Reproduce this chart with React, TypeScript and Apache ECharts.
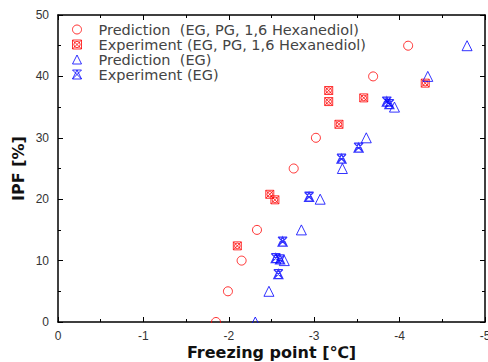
import React, { useEffect, useRef } from "react";
import * as echarts from "echarts";

const predMixX = [-1.85, -1.99, -2.15, -2.33, -2.76, -3.02, -3.69, -4.1];
const predMixY = [0, 5, 10, 15, 25, 30, 40, 45];
const expMixX = [-2.1, -2.48, -2.54, -3.17, -3.17, -3.29, -3.58, -4.3];
const expMixY = [12.4, 20.8, 19.9, 37.7, 35.9, 32.2, 36.5, 38.9];
const predEGX = [-2.31, -2.47, -2.65, -2.85, -3.07, -3.33, -3.61, -3.94, -4.33, -4.79];
const predEGY = [0, 5, 10, 15, 20, 25, 30, 35, 40, 45];
const expEGX = [-2.58, -2.55, -2.6, -2.63, -2.94, -3.32, -3.52, -3.85, -3.88];
const expEGY = [7.8, 10.4, 10.2, 13.1, 20.4, 26.6, 28.4, 35.9, 35.5];

const seriesNames = [
  "Prediction  (EG, PG, 1,6 Hexanediol)",
  "Experiment (EG, PG, 1,6 Hexanediol)",
  "Prediction  (EG)",
  "Experiment (EG)",
];
const seriesColors = ["#ff0000", "#ff0000", "#0000ff", "#0000ff"];

const zip = (xs: number[], ys: number[]) => xs.map((x, i) => [x, ys[i]]);

const SQX = "path://M0,0 L10,0 L10,10 L0,10 Z M0,0 L10,10 M10,0 L0,10 M8.5,5 A3.5,3.5 0 1,1 1.5,5 A3.5,3.5 0 1,1 8.5,5 Z";
const TRIX = "path://M5,0 L10,10 L0,10 Z M0,0 L10,10 M10,0 L0,10 M0,0 L10,0";
const symbols = ["circle", SQX, "triangle", TRIX];

export default function App() {
  const ref = useRef<HTMLDivElement>(null);
  useEffect(() => {
    if (!ref.current) return;
    const chart = echarts.init(ref.current, null, { renderer: "svg" });
    const font = "Liberation Sans";
    const axisLine = { show: true, onZero: false, lineStyle: { color: "#000", width: 1.5 } };
    const xCommon = {
      type: "value" as const,
      min: -5,
      max: 0,
      interval: 1,
      inverse: true,
      axisLine,
      axisTick: { show: true, inside: true, length: 5, lineStyle: { color: "#000", width: 1 } },
      minorTick: { show: true, splitNumber: 2, length: 3, lineStyle: { color: "#000", width: 1 } },
      splitLine: { show: false },
    };
    const yCommon = {
      type: "value" as const,
      min: 0,
      max: 50,
      interval: 10,
      axisLine,
      axisTick: { show: true, inside: true, length: 5, lineStyle: { color: "#000", width: 1 } },
      minorTick: { show: true, splitNumber: 2, length: 3, lineStyle: { color: "#000", width: 1 } },
      splitLine: { show: false },
    };
    chart.setOption({
      animation: false,
      backgroundColor: "#fff",
      grid: { left: 58, right: 3, top: 15, bottom: 40, containLabel: false, outerBoundsMode: "none" },
      legend: {
        orient: "vertical",
        left: 70,
        top: 22,
        padding: 0,
        itemWidth: 9,
        itemHeight: 9,
        itemGap: 0,
        textStyle: {
          fontFamily: "DejaVu Sans",
          fontSize: 14.5,
          lineHeight: 15,
          color: "#444",
          padding: [0, 0, 0, 12],
        },
        data: seriesNames.map((name, i) => ({
          name,
          icon: symbols[i],
          itemStyle: { color: "none", borderColor: seriesColors[i], borderWidth: 1 },
        })),
      },
      graphic: [
        {
          type: "rect",
          left: 58,
          top: 323,
          z: 100,
          shape: { width: 427, height: 5 },
          style: { fill: "#fff" },
          silent: true,
        },
      ],
      xAxis: [
        {
          ...xCommon,
          position: "bottom",
          name: "Freezing point [℃]",
          nameLocation: "middle",
          nameGap: 22,
          nameMoveOverlap: false,
          nameTextStyle: { fontFamily: "DejaVu Sans", fontSize: 16, fontWeight: "bold", color: "#111" },
          axisLabel: { show: true, margin: 8, fontFamily: font, fontSize: 12, color: "#333" },
        },
        { ...xCommon, position: "top", axisLabel: { show: false } },
      ],
      yAxis: [
        {
          ...yCommon,
          position: "left",
          name: "IPF [%]",
          nameLocation: "middle",
          nameGap: 32,
          nameMoveOverlap: false,
          nameTextStyle: { fontFamily: "DejaVu Sans", fontSize: 16, fontWeight: "bold", color: "#111" },
          axisLabel: { show: true, margin: 9, fontFamily: font, fontSize: 12, color: "#333" },
        },
        { ...yCommon, position: "right", axisLabel: { show: false } },
      ],
      series: [
        {
          name: seriesNames[0],
          type: "scatter",
          symbol: symbols[0],
          symbolSize: 9,
          data: zip(predMixX, predMixY),
          itemStyle: { color: "none", borderColor: seriesColors[0], borderWidth: 1 },
        },
        {
          name: seriesNames[1],
          type: "scatter",
          symbol: symbols[1],
          symbolSize: 8,
          data: zip(expMixX, expMixY),
          itemStyle: { color: "none", borderColor: seriesColors[1], borderWidth: 1 },
        },
        {
          name: seriesNames[2],
          type: "scatter",
          symbol: symbols[2],
          symbolSize: 10,
          data: zip(predEGX, predEGY),
          itemStyle: { color: "none", borderColor: seriesColors[2], borderWidth: 1 },
        },
        {
          name: seriesNames[3],
          type: "scatter",
          symbol: symbols[3],
          symbolSize: 9,
          data: zip(expEGX, expEGY),
          itemStyle: { color: "none", borderColor: seriesColors[3], borderWidth: 1.3 },
        },
      ],
    });
    return () => chart.dispose();
  }, []);
  return <div ref={ref} style={{ width: 488, height: 362, position: "absolute", left: 0, top: 0 }} />;
}
